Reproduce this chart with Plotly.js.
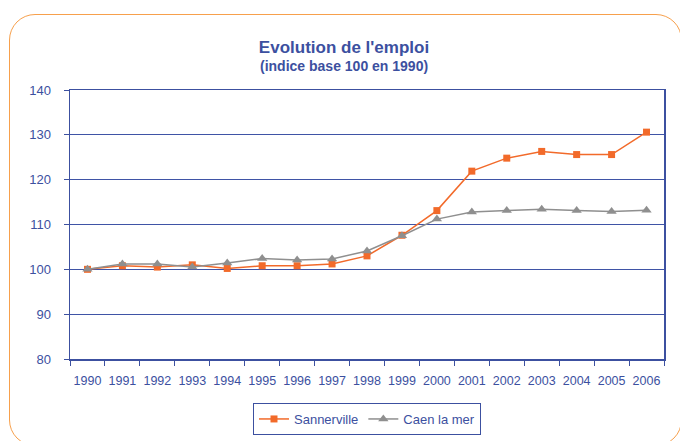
<!DOCTYPE html>
<html><head><meta charset="utf-8">
<script src="https://cdn.plot.ly/plotly-3.0.1.min.js"></script>
<style>
html,body{margin:0;padding:0;background:#fff;overflow:hidden;}
#frame{position:absolute;left:9px;top:14px;width:673px;height:432px;border:1.5px solid #f7a04c;border-radius:26px;box-sizing:border-box;pointer-events:none;z-index:5;}
#chart{position:absolute;left:0;top:0;width:680px;height:441px;}
</style></head>
<body>
<div id="chart"></div>
<div id="frame"></div>
<script>
var years = ["1990","1991","1992","1993","1994","1995","1996","1997","1998","1999","2000","2001","2002","2003","2004","2005","2006"];
var sannerville = [100,100.8,100.5,101,100.2,100.8,100.8,101.2,103,107.6,113.1,121.9,124.8,126.3,125.6,125.6,130.6];
var caen = [100,101.2,101.2,100.5,101.4,102.4,102.1,102.3,104.1,107.5,111.2,112.8,113.1,113.4,113.1,112.9,113.2];
var blue = "#3c50a0";
var font = "Liberation Sans, Arial, sans-serif";
var traces = [
 {x: years, y: sannerville, name: "Sannerville", type: "scatter", mode: "lines+markers",
  line: {color: "#f26a2a", width: 1.5}, marker: {symbol: "square", size: 7, color: "#f26a2a"}},
 {x: years, y: caen, name: "Caen la mer", type: "scatter", mode: "lines+markers",
  line: {color: "#8f8f8f", width: 1.5}, marker: {symbol: "triangle-up", size: 9, color: "#8f8f8f"}}
];
var layout = {
 width: 680, height: 441,
 margin: {l: 70, r: 16, t: 90, b: 82},
 paper_bgcolor: "#fff", plot_bgcolor: "#fff",
 font: {family: font, color: blue, size: 12},
 title: {text: "<b>Evolution de l'emploi</b>",
   font: {family: font, size: 17, color: blue}, x: 344 / 680, xanchor: "center", y: 1 - 47/441, yanchor: "middle", yref: "container"},
 annotations: [{text: "<b>(indice base 100 en 1990)</b>", xref: "paper", x: (344 - 70) / 594, xanchor: "center",
   yref: "paper", y: 1 + (90 - 66) / 269, yanchor: "middle", showarrow: false,
   font: {family: font, size: 14, color: blue}}],
 xaxis: {type: "category", range: [-0.5, 16.5], tickson: "boundaries", ticks: "outside", ticklen: 5, tickangle: 0,
   tickcolor: blue, showline: true, linecolor: blue, linewidth: 1.5, mirror: true, showgrid: false,
   tickfont: {size: 12.5, color: blue}, ticklabelstandoff: 9, fixedrange: true},
 yaxis: {range: [80, 140], dtick: 10, ticks: "outside", ticklen: 5, tickcolor: blue,
   showline: true, linecolor: blue, linewidth: 1.5, mirror: true, gridcolor: "#3f54a6", gridwidth: 1,
   zeroline: false, tickfont: {size: 13, color: blue}, ticklabelstandoff: 10},
 showlegend: true,
 legend: {orientation: "h", x: 0.5, xanchor: "center", xref: "paper", y: 1 - 403/441, yref: "container", yanchor: "top",
   bordercolor: blue, borderwidth: 1, font: {size: 13, color: blue}, bgcolor: "#fff", itemwidth: 30}
};
Plotly.newPlot("chart", traces, layout, {displayModeBar: false, staticPlot: true});
</script>
</body></html>
